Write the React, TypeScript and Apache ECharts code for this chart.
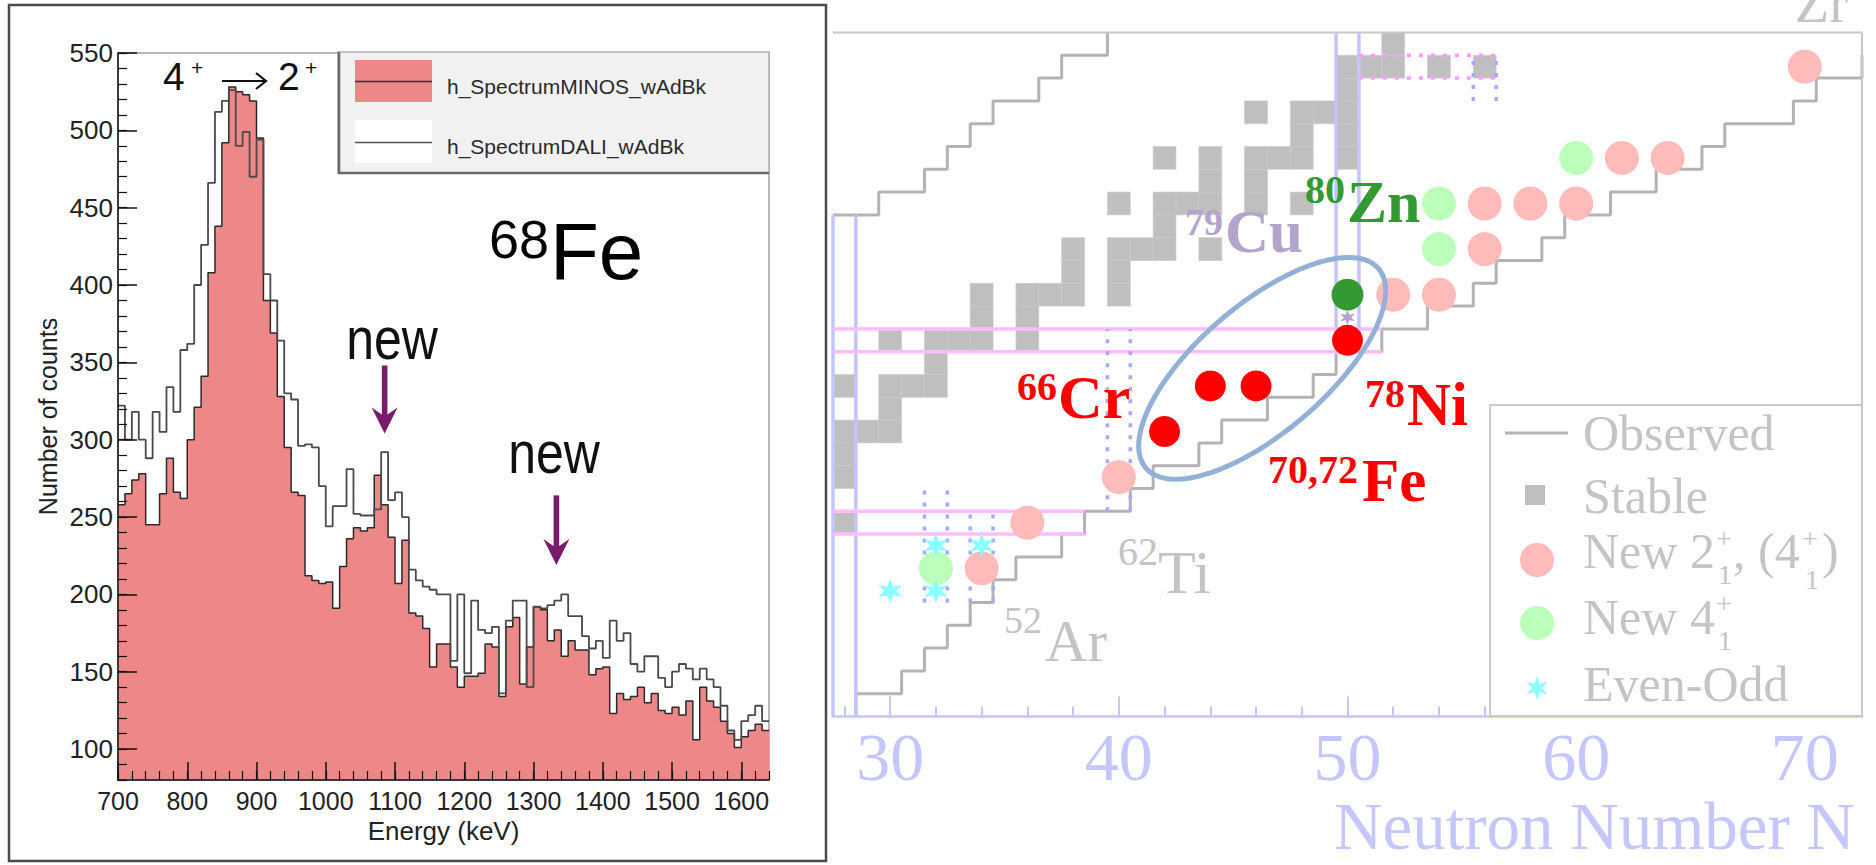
import { useEffect, useRef } from 'react';
import * as echarts from 'echarts';

const SANS = '"Liberation Sans", Arial, Helvetica, sans-serif';
const SERIF = '"Liberation Serif", "Times New Roman", Times, serif';

// ---------- 68Fe gamma spectrum (10 keV bins starting at 700 keV) ----------
const ENERGY_START = 700;
const BIN_WIDTH = 10;
const minosCounts = [
  258, 265, 274, 278, 245, 245, 265, 288, 266, 262,
  300, 321, 341, 408, 438, 492, 528, 525, 523, 519,
  495, 390, 369, 328, 295, 266, 264, 212, 209, 207,
  208, 191, 218, 236, 243, 241, 243, 277, 258, 237,
  207, 235, 188, 186, 178, 153, 168, 168, 153, 140,
  147, 147, 149, 168, 166, 134, 179, 185, 142, 166,
  192, 190, 170, 177, 160, 170, 164, 164, 148, 152,
  153, 123, 136, 132, 134, 140, 130, 136, 125, 123,
  127, 122, 131, 106, 140, 131, 127, 118, 110, 101,
  108, 112, 116, 112,
];
const daliCounts = [
  322, 300, 318, 300, 288, 318, 305, 334, 318, 358,
  362, 400, 426, 466, 512, 519, 526, 490, 499, 470,
  494, 407, 390, 364, 330, 326, 296, 297, 295, 270,
  244, 257, 257, 281, 252, 251, 251, 255, 292, 261,
  266, 250, 216, 209, 205, 203, 200, 200, 157, 200,
  149, 196, 177, 175, 179, 136, 183, 196, 196, 140,
  192, 191, 193, 196, 200, 186, 186, 173, 165, 170,
  159, 183, 170, 175, 155, 150, 160, 160, 146, 140,
  150, 155, 152, 145, 152, 145, 140, 128, 112, 106,
  118, 122, 128, 118,
];
const energyLabels = [700, 800, 900, 1000, 1100, 1200, 1300, 1400, 1500, 1600];
const countLabels = [100, 150, 200, 250, 300, 350, 400, 450, 500, 550];
// new transitions: energy, arrow tail count, arrow tip count
const newPeakArrows = [
  [1085, 348, 304],
  [1333, 264, 219],
];

// ---------- nuclear chart (N, Z) ----------
const neutronLabels = [30, 40, 50, 60, 70];
const neutronMinorTicks = [28, 32, 34, 36, 38, 42, 44, 46, 48, 52, 54, 56, 58, 62, 64, 66, 68, 72];
const stableNuclei = [
  [28, 20], [28, 22], [28, 23], [28, 24], [29, 24], [30, 24], [30, 25],
  [28, 26], [30, 26], [31, 26], [32, 26], [32, 27],
  [30, 28], [32, 28], [33, 28], [34, 28], [36, 28], [34, 29], [36, 29],
  [34, 30], [36, 30], [37, 30], [38, 30], [40, 30], [38, 31], [40, 31],
  [38, 32], [40, 32], [41, 32], [42, 32], [44, 32], [42, 33],
  [40, 34], [42, 34], [43, 34], [44, 34], [46, 34], [48, 34], [44, 35], [46, 35],
  [42, 36], [44, 36], [46, 36], [47, 36], [48, 36], [50, 36], [48, 37], [50, 37],
  [46, 38], [48, 38], [49, 38], [50, 38], [50, 39],
  [50, 40], [51, 40], [52, 40], [54, 40], [56, 40], [52, 41],
];
const protonRichLimit = [
  [27.5, 33.5], [29.5, 33.5], [29.5, 34.5], [31.5, 34.5], [31.5, 35.5], [32.5, 35.5],
  [32.5, 36.5], [33.5, 36.5], [33.5, 37.5], [34.5, 37.5], [34.5, 38.5], [36.5, 38.5],
  [36.5, 39.5], [37.5, 39.5], [37.5, 40.5], [39.5, 40.5], [39.5, 41.5],
];
const neutronRichLimit = [
  [28.5, 11.5], [28.5, 12.5], [30.5, 12.5], [30.5, 13.5], [31.5, 13.5], [31.5, 14.5],
  [32.5, 14.5], [32.5, 15.5], [33.5, 15.5], [33.5, 16.5], [34.5, 16.5], [34.5, 17.5],
  [35.5, 17.5], [35.5, 18.5], [37.5, 18.5], [37.5, 19.5], [38.5, 19.5], [38.5, 20.5],
  [40.5, 20.5], [40.5, 21.5], [41.5, 21.5], [41.5, 22.5], [43.5, 22.5], [43.5, 23.5],
  [44.5, 23.5], [44.5, 24.5], [46.5, 24.5], [46.5, 25.5], [48.5, 25.5], [48.5, 26.5],
  [49.5, 26.5], [49.5, 27.5], [51.5, 27.5], [51.5, 28.5], [53.5, 28.5], [53.5, 29.5],
  [55.5, 29.5], [55.5, 30.5], [56.5, 30.5], [56.5, 31.5], [58.5, 31.5], [58.5, 32.5],
  [59.5, 32.5], [59.5, 33.5], [61.5, 33.5], [61.5, 34.5], [63.5, 34.5], [63.5, 35.5],
  [65.5, 35.5], [65.5, 36.5], [66.5, 36.5], [66.5, 37.5], [69.5, 37.5], [69.5, 38.5],
  [70.5, 38.5], [70.5, 39.5], [72.5, 39.5], [72.5, 40.5],
];
const newTwoPlus = [
  [34, 18], [36, 20], [40, 22], [52, 30], [54, 30], [56, 32], [56, 34], [58, 34],
  [60, 34], [62, 36], [64, 36], [70, 40],
];
const newFourPlus = [[32, 18], [54, 32], [54, 34], [60, 36]];
const evenOdd = [[30, 17], [32, 17], [32, 19], [34, 19]];
const studiedNuclei = [[42, 24], [44, 26], [46, 26], [50, 28]];
const zinc80 = [[50, 30]];
const copper79 = [[50, 29]];
// segments: N1, Z1, N2, Z2
const magicBlue = [
  [27.5, 11.5, 27.5, 33.5], [28.5, 11.5, 28.5, 33.5],
  [49.5, 27.5, 49.5, 41.5], [50.5, 27.5, 50.5, 41.5],
];
const magicPink = [
  [27.5, 19.5, 38.5, 19.5], [27.5, 20.5, 38.5, 20.5],
  [27.5, 27.5, 51.5, 27.5], [27.5, 28.5, 51.5, 28.5],
];
const subshellBlue = [
  [39.5, 20.5, 39.5, 28.5], [40.5, 20.5, 40.5, 28.5],
  [31.5, 16.5, 31.5, 21.5], [32.5, 16.5, 32.5, 21.5],
  [33.5, 16.5, 33.5, 20.5], [34.5, 16.5, 34.5, 20.5],
  [55.5, 38.5, 55.5, 40.5], [56.5, 38.5, 56.5, 40.5],
];
const subshellPink = [[50.5, 39.5, 56.5, 39.5], [50.5, 40.5, 56.5, 40.5]];
const chartFrame = [[27.5, 41.5, 72.5, 41.5], [72.5, 11.5, 72.5, 41.5]];
const ringCenter = [[46.27, 26.77]];
const ringAxes = [6.7, 2.8];
const ringAngle = 40.6;

function stepPoints(counts: number[]) {
  const pts = counts.map((c, i) => [ENERGY_START + i * BIN_WIDTH, c]);
  pts.push([ENERGY_START + counts.length * BIN_WIDTH, counts[counts.length - 1]]);
  return pts;
}

function starPoints(cx: number, cy: number, r: number) {
  const pts: number[][] = [];
  for (let k = 0; k < 12; k++) {
    const rr = k % 2 === 0 ? r : r * 0.42;
    const a = (Math.PI / 6) * k - Math.PI / 2;
    pts.push([cx + rr * Math.cos(a), cy + rr * Math.sin(a)]);
  }
  return pts;
}
const STAR_SYMBOL =
  'path://M' + starPoints(10, 10, 10).map((p) => p[0].toFixed(2) + ',' + p[1].toFixed(2)).join('L') + 'Z';

// text placed by its baseline
function txt(x: number, baseline: number, text: string, size: number, fill: string, o: any = {}) {
  return {
    type: 'text',
    x,
    y: baseline - 0.34 * size * (o.scaleY || 1),
    z: 100,
    silent: true,
    scaleY: o.scaleY || 1,
    style: {
      text,
      fontSize: size,
      fontFamily: o.family || SERIF,
      fontWeight: o.weight || 'normal',
      fill,
      align: o.align || 'left',
      verticalAlign: 'middle',
    },
  };
}

function segmentSeries(data: number[][], color: string, width: number, dash?: number[]) {
  return {
    type: 'custom',
    xAxisIndex: 2,
    yAxisIndex: 2,
    silent: true,
    clip: false,
    z: 3,
    data,
    encode: { x: [0, 2], y: [1, 3] },
    renderItem: (_p: any, api: any) => {
      const a = api.coord([api.value(0), api.value(1)]);
      const b = api.coord([api.value(2), api.value(3)]);
      return {
        type: 'line',
        shape: { x1: a[0], y1: a[1], x2: b[0], y2: b[1] },
        style: { stroke: color, lineWidth: width, lineDash: dash },
      };
    },
  };
}

function nuclideLabel(sup: string, supRight: number, supBase: number, supSize: number,
  main: string, mainLeft: number, mainBase: number, mainSize: number, fill: string, weight: string) {
  return [
    txt(supRight, supBase, sup, supSize, fill, { align: 'right', weight }),
    txt(mainLeft, mainBase, main, mainSize, fill, { weight }),
  ];
}

export default function App() {
  const ref = useRef<HTMLDivElement>(null);

  useEffect(() => {
    if (!ref.current) return;
    const chart = echarts.init(ref.current, undefined, { renderer: 'svg' });
    const grey = '#c4c4c4';
    const axisBlue = '#c6c6ff';
    const purple = '#7a1a6c';

    const graphic: any[] = [
      // left panel frame
      { type: 'rect', z: 100, silent: true, shape: { x: 9, y: 5, width: 817, height: 856 },
        style: { fill: 'none', stroke: '#4a4a4a', lineWidth: 2.5 } },
      // histogram legend
      { type: 'rect', z: 100, silent: true, shape: { x: 338, y: 52, width: 431, height: 121 },
        style: { fill: '#f1f1f1', stroke: '#b0b0b0', lineWidth: 1.5 } },
      { type: 'polyline', z: 101, silent: true, shape: { points: [[339, 52], [339, 173], [769, 173]] },
        style: { fill: 'none', stroke: '#6a6a6a', lineWidth: 2.5 } },
      { type: 'rect', z: 101, silent: true, shape: { x: 355, y: 60, width: 77, height: 42 },
        style: { fill: '#ee8888' } },
      { type: 'line', z: 102, silent: true, shape: { x1: 355, y1: 81.5, x2: 432, y2: 81.5 },
        style: { stroke: '#333', lineWidth: 1.5 } },
      { type: 'rect', z: 101, silent: true, shape: { x: 355, y: 120, width: 77, height: 43 },
        style: { fill: '#ffffff' } },
      { type: 'line', z: 102, silent: true, shape: { x1: 355, y1: 142.5, x2: 432, y2: 142.5 },
        style: { stroke: '#555', lineWidth: 1.5 } },
      txt(447, 94, 'h_SpectrumMINOS_wAdBk', 21, '#2a2a2a', { family: SANS }),
      txt(447, 154, 'h_SpectrumDALI_wAdBk', 21, '#2a2a2a', { family: SANS }),
      // 4+ -> 2+
      txt(163, 90, '4', 39, '#111', { family: SANS }),
      txt(191, 75, '+', 21, '#111', { family: SANS }),
      { type: 'line', z: 100, silent: true, shape: { x1: 222, y1: 81, x2: 265, y2: 81 },
        style: { stroke: '#111', lineWidth: 2.2 } },
      { type: 'polyline', z: 100, silent: true, shape: { points: [[256, 73], [266, 81], [256, 89]] },
        style: { fill: 'none', stroke: '#111', lineWidth: 2.2 } },
      txt(278, 90, '2', 39, '#111', { family: SANS }),
      txt(305, 75, '+', 21, '#111', { family: SANS }),
      // 68Fe
      txt(489, 257, '68', 54, '#000', { family: SANS }),
      txt(550, 279, 'Fe', 80, '#000', { family: SANS }),
      // "new" labels
      txt(392, 359, 'new', 50, '#111', { family: SANS, align: 'center', scaleY: 1.18 }),
      txt(554, 473, 'new', 50, '#111', { family: SANS, align: 'center', scaleY: 1.18 }),

      // nuclear chart legend
      { type: 'rect', z: 100, silent: true, shape: { x: 1490, y: 405, width: 372, height: 311 },
        style: { fill: '#ffffff', stroke: '#cacaca', lineWidth: 2 } },
      { type: 'line', z: 101, silent: true, shape: { x1: 1505, y1: 433, x2: 1568, y2: 433 },
        style: { stroke: '#b3b3b3', lineWidth: 3 } },
      txt(1583, 450, 'Observed', 50, grey),
      { type: 'rect', z: 101, silent: true, shape: { x: 1525, y: 485, width: 20, height: 20 },
        style: { fill: '#bfbfbf' } },
      txt(1583, 513, 'Stable', 50, grey),
      { type: 'circle', z: 101, silent: true, shape: { cx: 1537, cy: 560, r: 17 }, style: { fill: '#ffbaba' } },
      txt(1583, 568, 'New 2', 50, grey),
      txt(1716, 548, '+', 28, grey),
      txt(1718, 584, '1', 28, grey),
      txt(1733, 568, ', (4', 50, grey),
      txt(1802, 548, '+', 28, grey),
      txt(1805, 589, '1', 28, grey),
      txt(1822, 568, ')', 50, grey),
      { type: 'circle', z: 101, silent: true, shape: { cx: 1537, cy: 623, r: 17 }, style: { fill: '#bbffbb' } },
      txt(1583, 634, 'New 4', 50, grey),
      txt(1716, 613, '+', 28, grey),
      txt(1718, 650, '1', 28, grey),
      { type: 'polygon', z: 101, silent: true, shape: { points: starPoints(1537, 688, 12) },
        style: { fill: '#8cffff' } },
      txt(1583, 701, 'Even-Odd', 50, grey),
      txt(1855, 849, 'Neutron Number N', 67, axisBlue, { align: 'right' }),

      // nuclide names
      ...nuclideLabel('66', 1057, 400, 40, 'Cr', 1058, 418, 62, '#ff0000', 'bold'),
      ...nuclideLabel('78', 1405, 407, 40, 'Ni', 1407, 425, 61, '#ff0000', 'bold'),
      ...nuclideLabel('70,72', 1358, 483, 40, 'Fe', 1362, 501, 61, '#ff0000', 'bold'),
      ...nuclideLabel('80', 1345, 203, 40, 'Zn', 1347, 222, 60, '#339933', 'bold'),
      ...nuclideLabel('79', 1223, 235, 38, 'Cu', 1225, 252, 61, '#b3a4cc', 'bold'),
      ...nuclideLabel('62', 1158, 565, 40, 'Ti', 1158, 593, 62, grey, 'normal'),
      ...nuclideLabel('52', 1042, 633, 38, 'Ar', 1045, 661, 59, grey, 'normal'),
      txt(1795, 22, 'Zr', 56, grey),
    ];

    const option: any = {
      animation: false,
      backgroundColor: '#ffffff',
      textStyle: { fontFamily: SANS },
      grid: [
        { left: 118, top: 53, width: 651, height: 727, show: true, backgroundColor: '#fff',
          borderColor: '#a0a0a0', borderWidth: 1.5, containLabel: false, outerBoundsMode: 'none' },
        { left: 833, top: 32.5, width: 1029, height: 684, show: false, containLabel: false,
          outerBoundsMode: 'none' },
      ],
      xAxis: [
        {
          gridIndex: 0, type: 'value', min: 700, max: 1640, interval: 20, z: 10,
          name: 'Energy (keV)', nameLocation: 'middle', nameGap: 38, nameMoveOverlap: false,
          nameTextStyle: { fontSize: 26, color: '#222', fontFamily: SANS },
          axisLine: { show: true, lineStyle: { color: '#111', width: 1.5 } },
          axisTick: { show: true, inside: true, length: 9, lineStyle: { color: '#111', width: 1.2 } },
          axisLabel: { customValues: energyLabels, fontSize: 25, color: '#222', fontFamily: SANS, margin: 8,
            formatter: (v: number) => String(v) },
          splitLine: { show: false },
        },
        {
          gridIndex: 0, type: 'value', min: 700, max: 1640, position: 'bottom', z: 10,
          axisLine: { show: false },
          axisTick: { show: true, inside: true, length: 18, customValues: energyLabels,
            lineStyle: { color: '#111', width: 1.5 } },
          axisLabel: { show: false },
          splitLine: { show: false },
        },
        {
          gridIndex: 1, type: 'value', min: 27.5, max: 72.5, z: 10,
          axisLine: { show: true, lineStyle: { color: axisBlue, width: 2.5 } },
          axisTick: { show: true, inside: true, length: 20, customValues: neutronLabels,
            lineStyle: { color: axisBlue, width: 2 } },
          axisLabel: { customValues: neutronLabels, fontSize: 68, fontFamily: SERIF, color: axisBlue, margin: 6,
            formatter: (v: number) => String(v) },
          splitLine: { show: false },
        },
        {
          gridIndex: 1, type: 'value', min: 27.5, max: 72.5, position: 'bottom', z: 10,
          axisLine: { show: false },
          axisTick: { show: true, inside: true, length: 10, customValues: neutronMinorTicks,
            lineStyle: { color: axisBlue, width: 2 } },
          axisLabel: { show: false },
          splitLine: { show: false },
        },
      ],
      yAxis: [
        {
          gridIndex: 0, type: 'value', min: 80, max: 550, interval: 10, z: 10,
          name: 'Number of counts', nameLocation: 'middle', nameGap: 58, nameRotate: 90, nameMoveOverlap: false,
          nameTextStyle: { fontSize: 25, color: '#222', fontFamily: SANS },
          axisLine: { show: true, lineStyle: { color: '#111', width: 1.5 } },
          axisTick: { show: true, inside: true, length: 9, lineStyle: { color: '#111', width: 1.2 } },
          axisLabel: { customValues: countLabels, fontSize: 26, color: '#222', fontFamily: SANS, margin: 5,
            formatter: (v: number) => String(v) },
          splitLine: { show: false },
        },
        {
          gridIndex: 0, type: 'value', min: 80, max: 550, position: 'left', z: 10,
          axisLine: { show: false },
          axisTick: { show: true, inside: true, length: 19, customValues: countLabels,
            lineStyle: { color: '#111', width: 1.5 } },
          axisLabel: { show: false },
          splitLine: { show: false },
        },
        { gridIndex: 1, type: 'value', min: 11.5, max: 41.5, show: false },
      ],
      series: [
        {
          name: 'h_SpectrumMINOS_wAdBk', type: 'line', xAxisIndex: 0, yAxisIndex: 0, step: 'end',
          data: stepPoints(minosCounts), symbol: 'none', silent: true, z: 2,
          lineStyle: { color: '#2a2a2a', width: 1.5 },
          areaStyle: { color: '#ee8888', opacity: 1, origin: 'start' },
        },
        {
          name: 'h_SpectrumDALI_wAdBk', type: 'line', xAxisIndex: 0, yAxisIndex: 0, step: 'end',
          data: stepPoints(daliCounts), symbol: 'none', silent: true, z: 3,
          lineStyle: { color: '#4a4a4a', width: 1.8 },
        },
        {
          type: 'custom', xAxisIndex: 0, yAxisIndex: 0, silent: true, z: 4, data: newPeakArrows,
          renderItem: (_p: any, api: any) => {
            const top = api.coord([api.value(0), api.value(1)]);
            const tip = api.coord([api.value(0), api.value(2)]);
            const headH = 26;
            const headW = 13;
            return {
              type: 'group',
              children: [
                { type: 'rect', shape: { x: top[0] - 2.8, y: top[1], width: 5.6, height: tip[1] - top[1] - 12 },
                  style: { fill: purple } },
                { type: 'polygon',
                  shape: { points: [[tip[0] - headW, tip[1] - headH], [tip[0], tip[1] - headH + 9],
                    [tip[0] + headW, tip[1] - headH], [tip[0], tip[1]]] },
                  style: { fill: purple } },
              ],
            };
          },
        },
        // nuclear chart
        {
          type: 'custom', xAxisIndex: 2, yAxisIndex: 2, silent: true, z: 1, data: stableNuclei,
          renderItem: (_p: any, api: any) => {
            const c = api.coord([api.value(0), api.value(1)]);
            const s = api.size([1, 1]);
            return {
              type: 'rect',
              shape: { x: c[0] - s[0] / 2, y: c[1] - s[1] / 2, width: s[0], height: s[1] },
              style: { fill: '#bfbfbf', stroke: '#c9c9c9', lineWidth: 0.6 },
            };
          },
        },
        {
          type: 'line', xAxisIndex: 2, yAxisIndex: 2, data: protonRichLimit, symbol: 'none', silent: true, z: 2,
          lineStyle: { color: '#b3b3b3', width: 3 },
        },
        {
          type: 'line', xAxisIndex: 2, yAxisIndex: 2, data: neutronRichLimit, symbol: 'none', silent: true, z: 2,
          lineStyle: { color: '#b3b3b3', width: 3 },
        },
        segmentSeries(chartFrame, '#c8c8c8', 2),
        segmentSeries(magicBlue, '#c4c4ff', 3.5),
        segmentSeries(magicPink, '#ffbcff', 3.5),
        segmentSeries(subshellBlue, '#a8a8ff', 3.5, [4, 8]),
        segmentSeries(subshellPink, '#ff9cff', 3.5, [4, 8]),
        {
          type: 'scatter', xAxisIndex: 2, yAxisIndex: 2, data: newTwoPlus, symbolSize: 34, silent: true, z: 4,
          itemStyle: { color: '#ffbaba', opacity: 1 },
        },
        {
          type: 'scatter', xAxisIndex: 2, yAxisIndex: 2, data: newFourPlus, symbolSize: 34, silent: true, z: 4,
          itemStyle: { color: '#bbffbb', opacity: 1 },
        },
        {
          type: 'scatter', xAxisIndex: 2, yAxisIndex: 2, data: evenOdd, symbol: STAR_SYMBOL, symbolSize: 24,
          silent: true, z: 4, itemStyle: { color: '#8cffff', opacity: 1 },
        },
        {
          type: 'custom', xAxisIndex: 2, yAxisIndex: 2, silent: true, z: 5, data: ringCenter,
          renderItem: (_p: any, api: any) => {
            const c = api.coord([api.value(0), api.value(1)]);
            const unit = api.size([1, 1]);
            const a = ringAxes[0] * unit[0];
            const b = ringAxes[1] * unit[1];
            const th = (ringAngle * Math.PI) / 180;
            const pts: number[][] = [];
            for (let k = 0; k < 160; k++) {
              const t = (2 * Math.PI * k) / 160;
              const ex = a * Math.cos(t);
              const ey = b * Math.sin(t);
              pts.push([c[0] + ex * Math.cos(th) + ey * Math.sin(th), c[1] - ex * Math.sin(th) + ey * Math.cos(th)]);
            }
            return { type: 'polygon', shape: { points: pts }, style: { fill: 'none', stroke: '#93b1d7', lineWidth: 5 } };
          },
        },
        {
          type: 'scatter', xAxisIndex: 2, yAxisIndex: 2, data: studiedNuclei, symbolSize: 31, silent: true, z: 6,
          itemStyle: { color: '#ff0000', opacity: 1 },
        },
        {
          type: 'scatter', xAxisIndex: 2, yAxisIndex: 2, data: zinc80, symbolSize: 32, silent: true, z: 6,
          itemStyle: { color: '#339933', opacity: 1 },
        },
        {
          type: 'scatter', xAxisIndex: 2, yAxisIndex: 2, data: copper79, symbol: STAR_SYMBOL, symbolSize: 15,
          silent: true, z: 7, itemStyle: { color: '#b3a4cc', opacity: 1 },
        },
      ],
      graphic,
    };

    chart.setOption(option);
    return () => chart.dispose();
  }, []);

  return (
    <div
      ref={ref}
      style={{ position: 'fixed', left: 0, top: 0, width: '1876px', height: '865px', background: '#fff' }}
    />
  );
}
